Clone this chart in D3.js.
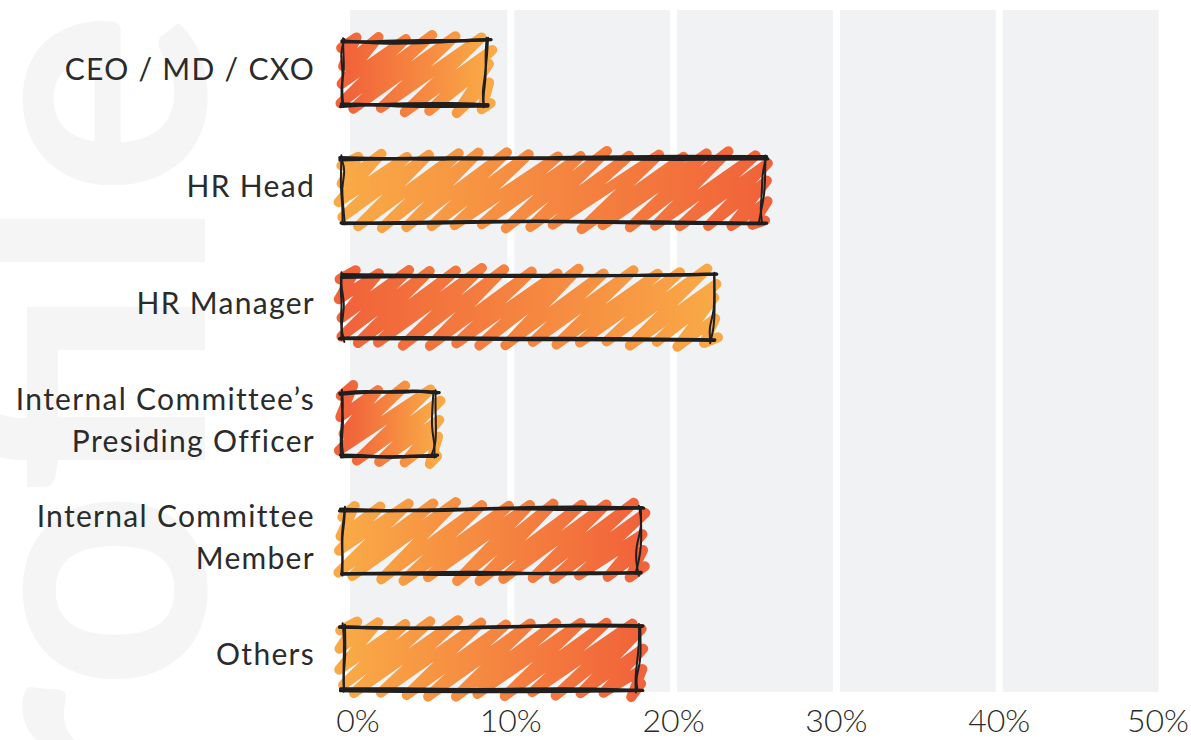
<!DOCTYPE html>
<html>
<head>
<meta charset="utf-8">
<script src="https://cdn.jsdelivr.net/npm/d3@7"></script>
<style>
  body { margin: 0; background: #fff; }
  svg { display: block; }
  .role-label { font-family: Lato, sans-serif; font-size: 30px; letter-spacing: 1.3px; fill: #2b2b2b; }
  .tick-label { font-family: Lato, sans-serif; font-weight: 300; font-size: 32px; fill: #2b2b2b; }
  .watermark { font-family: Lato, sans-serif; font-weight: 700; font-size: 350px; fill: #f5f5f5; }
</style>
</head>
<body>
<div id="chart"></div>
<script>
// Roles of respondents and share of answers (%)
const categories = ['CEO / MD / CXO', 'HR Head', 'HR Manager', 'Internal Committee’s\nPresiding Officer', 'Internal Committee\nMember', 'Others'];
const shares = [8.5, 25.5, 22.4, 5.3, 17.9, 17.9];
const tickValues = [0, 10, 20, 30, 40, 50];
const tickLabels = ['0%', '10%', '20%', '30%', '40%', '50%'];
const watermarkText = 'Profile';

// Small seeded generator so the sketchy strokes look the same every time
function mulberry32(a) {
    return function() {
        a |= 0; a = a + 0x6D2B79F5 | 0;
        let t = Math.imul(a ^ a >>> 15, 1 | a);
        t = t + Math.imul(t ^ t >>> 7, 61 | t) ^ t;
        return ((t ^ t >>> 14) >>> 0) / 4294967296;
    };
}

class SketchBarChart {
    constructor(_config, _data) {
        this.config = {
            parentElement: _config.parentElement,
            containerWidth: _config.containerWidth,
            containerHeight: _config.containerHeight,
            plotTop: 10,
            plotBottom: 692,
            bandTop: 15,
            bandBottom: 717,
            xStart: 348,
            xEnd: 1162,
            labelRight: 315,
            labelShift: -4,
            lineHeight: 42,
            columnGap: 7,
            hachureGap: 25,
            hachureAngle: 36,
            fillWeight: 10,
            colorWarm: '#f1633a',
            colorLight: '#f9a946',
            flipGradient: [false, true, false, false, true, true],
        };
        this.data = _data;
        this.rand = mulberry32(11);
        this.initVis();
    }

    initVis() {
        let vis = this;

        vis.svg = d3.select(vis.config.parentElement).append('svg')
            .attr('width', vis.config.containerWidth)
            .attr('height', vis.config.containerHeight);
        vis.defs = vis.svg.append('defs');

        // Faint rotated word behind the chart
        vis.svg.append('text')
            .attr('class', 'watermark')
            .attr('text-anchor', 'end')
            .attr('transform', 'translate(205,10) rotate(-90)')
            .text(watermarkText);

        vis.xScale = d3.scaleLinear()
            .domain([0, 50])
            .range([vis.config.xStart, vis.config.xEnd]);
        vis.yScale = d3.scaleBand()
            .domain(vis.data.map(d => d.role))
            .range([vis.config.bandTop, vis.config.bandBottom])
            .paddingInner(0.46)
            .paddingOuter(0.23);

        vis.gridG = vis.svg.append('g').attr('class', 'grid');
        vis.barG = vis.svg.append('g').attr('class', 'bars');
        vis.labelG = vis.svg.append('g').attr('class', 'labels');
        vis.axisG = vis.svg.append('g').attr('class', 'axis');

        vis.renderVis();
    }

    // Wobbly line between two points, like a pen stroke
    roughLine(x1, y1, x2, y2, amp, bow) {
        let vis = this;
        const j = () => (vis.rand() - 0.5) * 2 * amp;
        const len = Math.hypot(x2 - x1, y2 - y1);
        const nx = -(y2 - y1) / len, ny = (x2 - x1) / len;
        const pts = [[x1 + j(), y1 + j()]];
        [0.25, 0.55, 0.8].forEach(t => {
            const b = (vis.rand() - 0.5) * 2 * bow;
            pts.push([x1 + (x2 - x1) * t + nx * b, y1 + (y2 - y1) * t + ny * b]);
        });
        pts.push([x2 + j(), y2 + j()]);
        return d3.line().curve(d3.curveBasis)(pts);
    }

    // Zigzag hachure inside a box
    zigzagPath(x0, y0, w, h) {
        let vis = this;
        const t = Math.tan(vis.config.hachureAngle * Math.PI / 180);
        const run = h / t;
        const x1 = x0 + w, yb = y0 + h;
        const j = (s) => (vis.rand() - 0.5) * 2 * s;
        const pts = [];
        for (let c = x0 - run + vis.config.hachureGap * 0.6; c < x1 - 2; c += vis.config.hachureGap) {
            let sx = c, sy = yb, ex = c + run, ey = y0;
            if (sx < x0) { sy = yb - (x0 - c) * t; sx = x0; }
            if (ex > x1) { ey = yb - (x1 - c) * t; ex = x1; }
            pts.push([sx + j(3), sy + j(3)]);
            pts.push([ex + j(3), ey + j(3)]);
        }
        return 'M' + pts.map(p => p[0].toFixed(1) + ',' + p[1].toFixed(1)).join('L');
    }

    renderVis() {
        let vis = this;
        const cfg = vis.config;

        // Light grey columns between the ticks
        const spans = d3.pairs(tickValues);
        vis.gridG.selectAll('rect')
            .data(spans)
            .join('rect')
            .attr('x', (d, i) => vis.xScale(d[0]) + (i === 0 ? 2 : cfg.columnGap / 2))
            .attr('y', cfg.plotTop)
            .attr('width', (d, i) => vis.xScale(d[1]) - vis.xScale(d[0]) - cfg.columnGap / 2 - (i === 0 ? 2 : cfg.columnGap / 2))
            .attr('height', cfg.plotBottom - cfg.plotTop)
            .attr('fill', '#f1f2f4');

        // Gradients for each bar
        vis.defs.selectAll('linearGradient')
            .data(vis.data)
            .join('linearGradient')
            .attr('id', (d, i) => `bar-grad-${i}`)
            .attr('gradientUnits', 'userSpaceOnUse')
            .attr('x1', vis.xScale(0))
            .attr('x2', d => vis.xScale(d.share))
            .attr('y1', 0).attr('y2', 0)
            .selectAll('stop')
            .data((d, i) => cfg.flipGradient[i]
                ? [{o: '0%', c: cfg.colorLight}, {o: '100%', c: cfg.colorWarm}]
                : [{o: '0%', c: cfg.colorWarm}, {o: '100%', c: cfg.colorLight}])
            .join('stop')
            .attr('offset', d => d.o)
            .attr('stop-color', d => d.c);

        const bars = vis.barG.selectAll('g.bar')
            .data(vis.data)
            .join('g')
            .attr('class', 'bar');

        bars.each(function(d, i) {
            const g = d3.select(this);
            const bx = vis.xScale(0) - 5;
            const bw = vis.xScale(d.share) - bx;
            const by = vis.yScale(d.role);
            const bh = vis.yScale.bandwidth();

            // Crayon fill
            g.append('path')
                .attr('d', vis.zigzagPath(bx - 2, by - 5, bw + 6, bh + 10))
                .attr('fill', 'none')
                .attr('stroke', `url(#bar-grad-${i})`)
                .attr('stroke-width', cfg.fillWeight)
                .attr('stroke-linecap', 'round')
                .attr('stroke-linejoin', 'round');

            // Sketchy outline, each side drawn twice
            const edges = [
                {p: [bx - 2, by, bx + bw + 4, by - 1], w: 3.2, amp: 1.5, bow: 2.5},
                {p: [bx + bw + 1, by - 2, bx + bw - 2, by + bh + 2], w: 2, amp: 2.5, bow: 3},
                {p: [bx + bw + 2, by + bh, bx - 2, by + bh], w: 3.2, amp: 1.5, bow: 2},
                {p: [bx, by + bh + 2, bx, by - 2], w: 2, amp: 2, bow: 3},
            ];
            edges.forEach(e => {
                for (let k = 0; k < 2; k++) {
                    g.append('path')
                        .attr('d', vis.roughLine(e.p[0], e.p[1], e.p[2], e.p[3], e.amp, e.bow))
                        .attr('fill', 'none')
                        .attr('stroke', '#1f1f1f')
                        .attr('stroke-width', e.w)
                        .attr('stroke-linecap', 'round');
                }
            });
        });

        // Role labels, split over lines
        vis.labelG.selectAll('text')
            .data(vis.data)
            .join('text')
            .attr('class', 'role-label')
            .attr('text-anchor', 'end')
            .each(function(d) {
                const lines = d.role.split('\n');
                const cy = vis.yScale(d.role) + vis.yScale.bandwidth() / 2 + cfg.labelShift;
                d3.select(this).selectAll('tspan')
                    .data(lines)
                    .join('tspan')
                    .attr('x', cfg.labelRight)
                    .attr('y', (l, k) => cy + (k - (lines.length - 1) / 2) * cfg.lineHeight)
                    .attr('dy', '0.35em')
                    .text(l => l);
            });

        // Percentage ticks along the bottom (end ones nudged inside the frame)
        const lastTick = tickValues.length - 1;
        vis.axisG.selectAll('text')
            .data(tickValues)
            .join('text')
            .attr('class', 'tick-label')
            .attr('text-anchor', 'middle')
            .attr('x', d => vis.xScale(d))
            .attr('dx', (d, i) => i === 0 ? 10 : (i === lastTick ? -4 : 0))
            .attr('y', 732)
            .text((d, i) => tickLabels[i]);
    }
}

const chartData = categories.map((c, i) => ({role: c, share: shares[i]}));

new SketchBarChart({
    parentElement: '#chart',
    containerWidth: 1191,
    containerHeight: 740,
}, chartData);
</script>
</body>
</html>
